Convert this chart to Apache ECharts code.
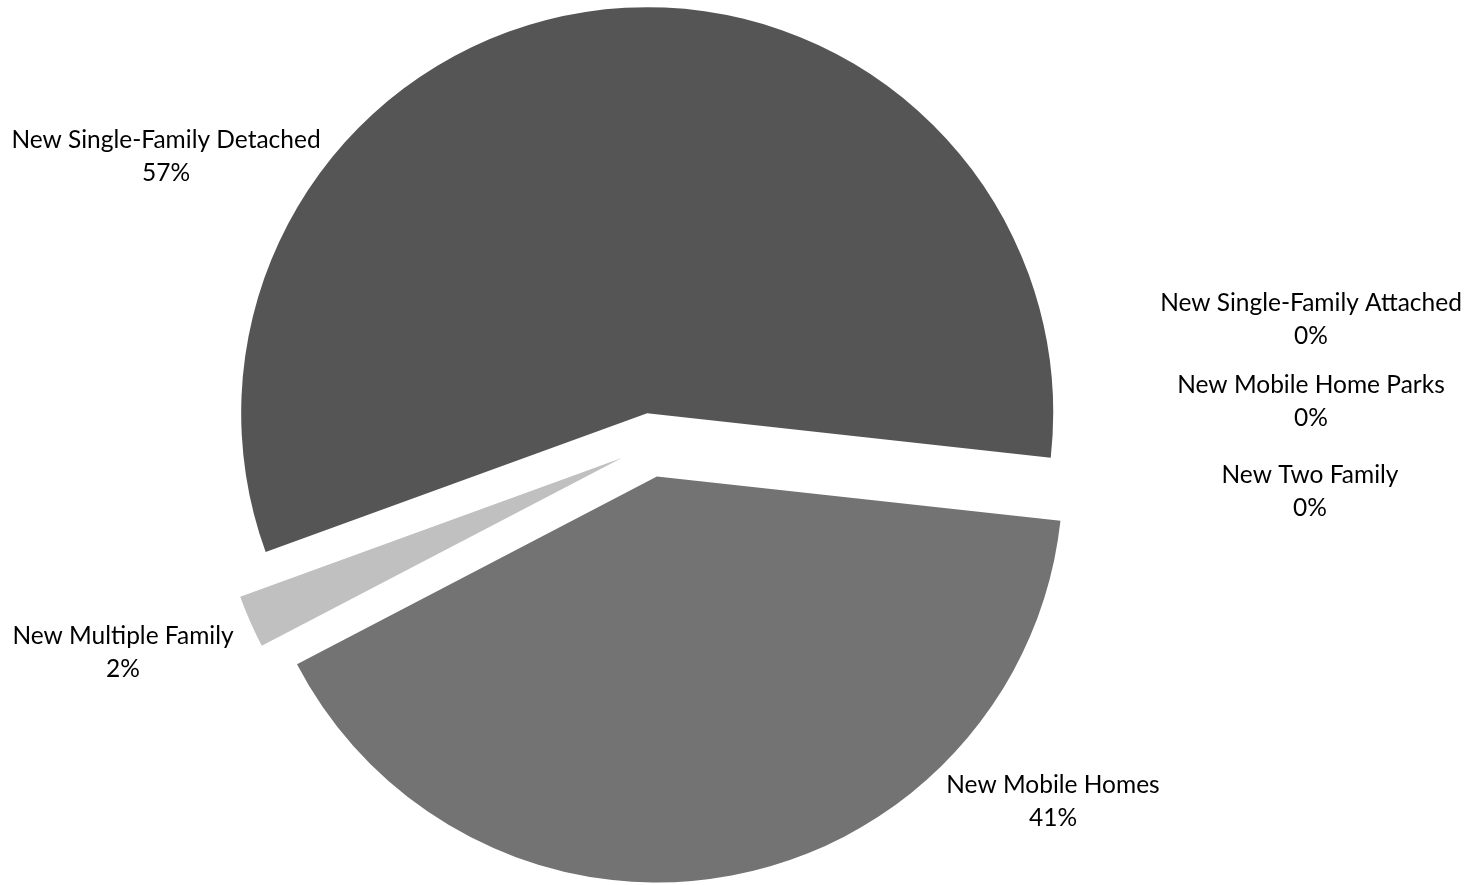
<!DOCTYPE html>
<html>
<head>
<meta charset="utf-8">
<script src="https://cdn.jsdelivr.net/npm/echarts@6/dist/echarts.min.js"></script>
<style>
  html, body { margin: 0; padding: 0; background: #ffffff; }
  #chart { width: 1479px; height: 885px; }
</style>
</head>
<body>
<div id="chart"></div>
<script>
// Housing unit types (clockwise from the left edge of the largest slice)
const categories = [
  'New Single-Family Detached',
  'New Single-Family Attached',
  'New Mobile Home Parks',
  'New Two Family',
  'New Mobile Homes',
  'New Multiple Family'
];
// Share of new units, percent
const shares = [57.3, 0, 0, 0, 40.6, 2.1];
const sliceColors = ['#555555', '#555555', '#555555', '#555555', '#737373', '#c0c0c0'];

// Label anchor points (center of each two-line label)
const labelAnchors = [
  [166, 157],
  [1311, 320],
  [1311, 402],
  [1310, 492],
  [1053, 802],
  [123, 653]
];

const CENTER = [651, 445];
const RADIUS = 406;
const START_ANGLE = 200;   // degrees, counter-clockwise from 3 o'clock
const EXPLODE = 32;        // every slice is pulled out from the center by this much

const chart = echarts.init(document.getElementById('chart'), null, { renderer: 'canvas' });

const total = shares.reduce((a, b) => a + b, 0);

// One pie series per slice: all share the same angles, but each one only paints
// (and labels) its own slice, with its center pushed out along the slice's bisector.
let cumulative = 0;
const series = categories.map((name, k) => {
  const from = START_ANGLE - cumulative / total * 360;
  const mid = (from - shares[k] / total * 180) * Math.PI / 180;
  cumulative += shares[k];
  const cx = CENTER[0] + Math.cos(mid) * EXPLODE;
  const cy = CENTER[1] - Math.sin(mid) * EXPLODE;
  return {
    type: 'pie',
    silent: true,
    center: [cx, cy],
    radius: [0, RADIUS],
    startAngle: START_ANGLE,
    clockwise: true,
    avoidLabelOverlap: false,
    percentPrecision: 0,
    emphasis: { disabled: true },
    labelLine: { show: false },
    labelLayout: function (params) {
      const p = labelAnchors[params.dataIndex];
      return { x: p[0], y: p[1], align: 'center', verticalAlign: 'middle' };
    },
    data: categories.map((n, i) => ({
      name: n,
      value: shares[i],
      itemStyle: { color: i === k ? sliceColors[i] : 'rgba(0,0,0,0)', borderWidth: 0 },
      label: {
        show: i === k,
        position: 'outside',
        formatter: '{b}\n{d}%',
        fontFamily: 'Lato',
        fontSize: 24.5,
        lineHeight: 33,
        color: '#000000',
        align: 'center'
      }
    }))
  };
});

chart.setOption({
  animation: false,
  backgroundColor: '#ffffff',
  series: series
});
</script>
</body>
</html>
